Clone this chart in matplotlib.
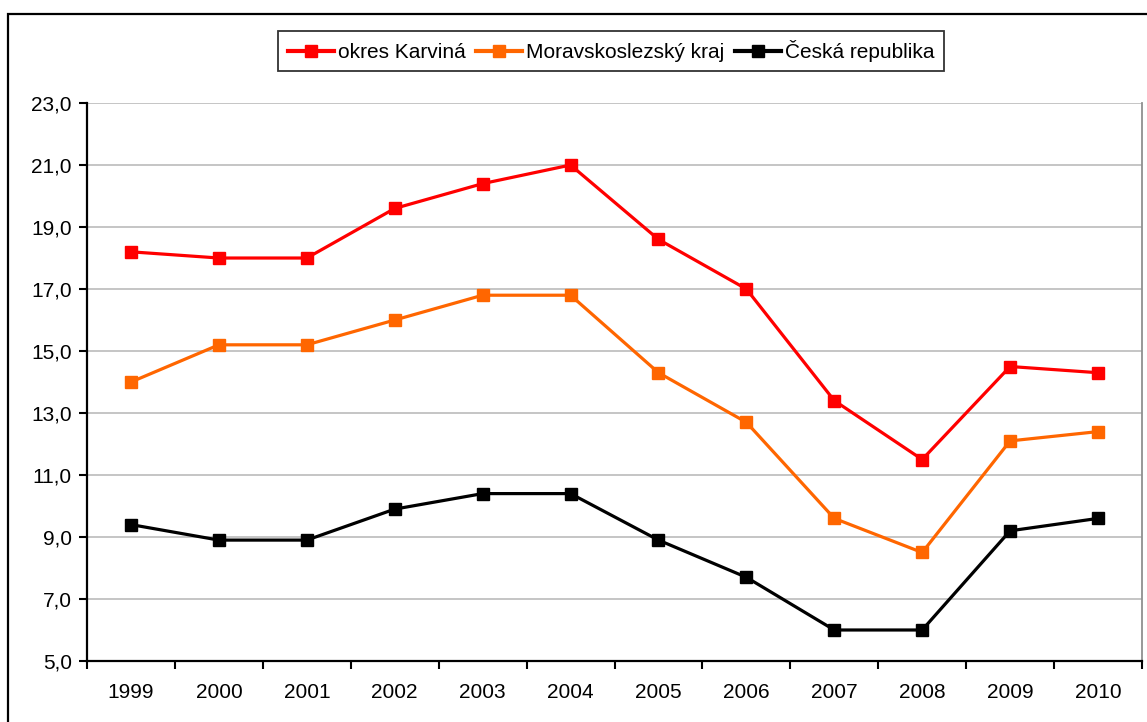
import matplotlib.pyplot as plt
from matplotlib.patches import Rectangle

years = ['1999', '2000', '2001', '2002', '2003', '2004',
         '2005', '2006', '2007', '2008', '2009', '2010']
karvina = [18.2, 18.0, 18.0, 19.6, 20.4, 21.0, 18.6, 17.0, 13.4, 11.5, 14.5, 14.3]
msk = [14.0, 15.2, 15.2, 16.0, 16.8, 16.8, 14.3, 12.7, 9.6, 8.5, 12.1, 12.4]
cr = [9.4, 8.9, 8.9, 9.9, 10.4, 10.4, 8.9, 7.7, 6.0, 6.0, 9.2, 9.6]
labels = ['okres Karviná', 'Moravskoslezský kraj', 'Česká republika']
colors = ['#ff0000', '#ff6600', '#000000']
yticks = [5, 7, 9, 11, 13, 15, 17, 19, 21, 23]

plt.rcParams['font.family'] = ['Liberation Sans', 'DejaVu Sans']

fig = plt.figure(figsize=(11.47, 7.22), dpi=100)
ax = fig.add_axes([0.0759, 0.0845, 0.9197, 0.7728])

# outer chart frame (runs past the right and bottom edge)
fig.patches.append(Rectangle((8 / 1147, -0.05), 1.1, 1 - 14 / 722 + 0.05,
                             transform=fig.transFigure, fill=False,
                             edgecolor='black', linewidth=1.6))

x = range(len(years))
for vals, lab, col in zip([karvina, msk, cr], labels, colors):
    ax.plot(x, vals, color=col, lw=2.3, marker='s', markersize=8,
            label=lab, zorder=3)

ax.set_xlim(-0.5, len(years) - 0.5)
ax.set_ylim(5, 23)
ax.set_yticks(yticks)
ax.set_yticklabels([f'{v:.1f}'.replace('.', ',') for v in yticks])
ax.yaxis.grid(True, color='#c0c0c0', lw=1.3)
ax.set_axisbelow(True)

ax.set_xticks([i - 0.5 for i in range(len(years) + 1)])
ax.set_xticklabels([])
ax.set_xticks(list(x), minor=True)
ax.set_xticklabels(years, minor=True)
ax.tick_params(axis='x', which='minor', length=0, pad=16, labelsize=15)
ax.tick_params(axis='x', which='major', direction='out', length=6, width=1.5)
ax.tick_params(axis='y', direction='out', length=6, width=1.5, labelsize=15, pad=5)

for s in ['left', 'bottom']:
    ax.spines[s].set_linewidth(1.6)
ax.spines['right'].set_color('#909090')
ax.spines['right'].set_linewidth(1.3)
ax.spines['top'].set_visible(False)

leg = fig.legend(loc='center', bbox_to_anchor=(611 / 1147, 1 - 51 / 722),
                 ncol=3, fontsize=15, frameon=True, fancybox=False,
                 edgecolor='black', handlelength=2.2, handletextpad=0.2,
                 columnspacing=0.5, borderpad=0.45, borderaxespad=0)
leg.get_frame().set_linewidth(1.3)
for h in leg.get_lines():
    h.set_linewidth(3)

fig.savefig('out.png', dpi=100)
